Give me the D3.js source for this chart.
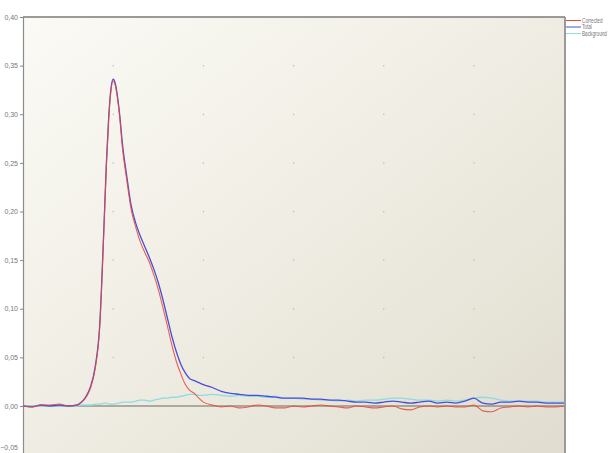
<!DOCTYPE html>
<html><head><meta charset="utf-8">
<script src="https://cdn.jsdelivr.net/npm/d3@7"></script>
<style>body{margin:0;background:#fff}svg{display:block}</style>
</head><body>
<svg id="c" width="611" height="453"></svg>
<script>
const yTicks = [-0.05, 0, 0.05, 0.10, 0.15, 0.20, 0.25, 0.30, 0.35, 0.40];
const xGrid = [0, 10, 20, 30, 40, 50, 60];
const seriesNames = ["Corrected", "Total", "Background"];
const seriesColors = ["#e8473b", "#4a4ed6", "#8edbe0"];

const time = [0,1,2,3,4,5,6,6.5,7,7.5,8,8.5,9,9.25,9.5,9.75,10,10.25,10.5,10.75,11,11.5,12,12.5,13,13.5,14,14.5,15,15.5,16,16.5,17,17.5,18,18.5,19,19.5,20,21,22,23,24,25,26,27,28,29,30,31,32,33,34,35,36,37,38,39,40,41,42,43,44,45,46,47,48,49,50,51,52,53,54,55,56,57,58,59,60];
const total = [0.000,-0.001,0.001,0.000,0.001,0.000,0.001,0.004,0.010,0.020,0.040,0.082,0.19,0.25,0.296,0.326,0.336,0.331,0.317,0.297,0.272,0.237,0.206,0.188,0.175,0.164,0.153,0.141,0.127,0.110,0.091,0.072,0.056,0.043,0.034,0.028,0.026,0.024,0.022,0.019,0.015,0.013,0.012,0.011,0.011,0.010,0.009,0.008,0.008,0.008,0.007,0.007,0.006,0.006,0.005,0.004,0.004,0.003,0.004,0.005,0.004,0.003,0.004,0.005,0.003,0.004,0.003,0.005,0.008,0.003,0.002,0.004,0.004,0.005,0.004,0.004,0.003,0.003,0.003];
const corrected = [0.000,-0.001,0.001,0.001,0.002,0.000,0.001,0.004,0.009,0.019,0.038,0.080,0.188,0.248,0.294,0.324,0.334,0.329,0.315,0.295,0.268,0.233,0.202,0.184,0.169,0.158,0.148,0.135,0.120,0.102,0.083,0.063,0.046,0.033,0.022,0.016,0.013,0.008,0.004,0.001,-0.001,0.000,-0.002,-0.001,0.001,0.000,-0.002,-0.002,0.000,-0.001,0.000,0.001,0.000,-0.001,-0.002,0.000,-0.001,-0.002,-0.001,0.000,-0.003,-0.004,-0.001,0.000,-0.001,0.000,-0.001,-0.001,0.001,-0.005,-0.006,-0.002,-0.001,0.000,-0.001,0.000,-0.001,-0.001,0.000];
const background = [0.000,0.000,0.000,0.000,0.000,0.000,0.000,0.001,0.001,0.001,0.002,0.002,0.003,0.003,0.002,0.002,0.002,0.002,0.003,0.003,0.004,0.004,0.004,0.005,0.006,0.006,0.005,0.006,0.007,0.008,0.008,0.009,0.009,0.010,0.011,0.012,0.012,0.011,0.011,0.012,0.011,0.010,0.011,0.010,0.010,0.009,0.010,0.008,0.008,0.007,0.007,0.006,0.006,0.005,0.006,0.005,0.006,0.006,0.007,0.008,0.008,0.007,0.006,0.006,0.005,0.006,0.005,0.006,0.008,0.009,0.008,0.006,0.005,0.005,0.005,0.005,0.004,0.004,0.004];

const svg = d3.select("#c");
const L = 23, R = 564, T = 17, B = 454.6;
const x = d3.scaleLinear().domain([0, 60]).range([L, R]);
const y = d3.scaleLinear().domain([-0.05, 0.40]).range([B, T]);
const FONT = "Liberation Sans Narrow, Arial Narrow, Liberation Sans, sans-serif";

const defs = svg.append("defs");
const g = defs.append("linearGradient").attr("id","bg").attr("x1","0").attr("y1","0").attr("x2","1").attr("y2","1");
g.append("stop").attr("offset","0").attr("stop-color","#fbfaf5");
g.append("stop").attr("offset","0.5").attr("stop-color","#efede3");
g.append("stop").attr("offset","1").attr("stop-color","#e0dccf");

svg.append("rect").attr("x", L).attr("y", T).attr("width", R - L).attr("height", 453 - T).attr("fill", "url(#bg)");

// grid dots
const dots = [];
xGrid.slice(1, -1).forEach(gx => yTicks.slice(1, -1).forEach(gy => { if (gy !== 0) dots.push([gx, gy]); }));
svg.append("g").selectAll("rect").data(dots).join("rect")
  .attr("x", d => x(d[0]) - 0.5).attr("y", d => y(d[1]) - 0.5)
  .attr("width", 1.2).attr("height", 1.2).attr("fill", "#b8b6ae");

// zero line
svg.append("line").attr("x1", L).attr("x2", R).attr("y1", y(0)).attr("y2", y(0))
  .attr("stroke", "#6d6a5c").attr("stroke-width", 1.2);

// borders
svg.append("line").attr("x1", L).attr("x2", R + 1).attr("y1", T).attr("y2", T).attr("stroke", "#7a7a7a").attr("stroke-width", 1.3);
svg.append("line").attr("x1", R + 1).attr("x2", R + 1).attr("y1", T).attr("y2", 453).attr("stroke", "#9a9a98").attr("stroke-width", 2);

// y axis
const yAxis = d3.axisLeft(y).tickValues(yTicks).tickSize(3).tickFormat(d => d3.format(".2f")(d).replace(".", ",").replace("-", ""));
const ax = svg.append("g").attr("transform", `translate(${L},0)`).call(yAxis);
ax.select(".domain").attr("stroke", "#8c8c8c").attr("stroke-width", 1.2);
ax.selectAll(".tick line").attr("stroke", "#888");
ax.selectAll("text").attr("font-family", FONT).attr("font-size", 7).attr("fill", "#777").attr("dx", 1);
ax.selectAll(".tick").filter(d => d < 0).select("text").attr("dy", "-0.7em");

const line = d3.line().x((d, i) => x(time[i])).y(d => y(d)).curve(d3.curveMonotoneX);
const plot = svg.append("g");
plot.append("path").datum(background).attr("d", line).attr("fill", "none").attr("stroke", seriesColors[2]).attr("stroke-width", 1.3);
plot.append("path").datum(total).attr("d", line).attr("fill", "none").attr("stroke", seriesColors[1]).attr("stroke-width", 1.3);
plot.append("path").datum(corrected).attr("d", line).attr("fill", "none").attr("stroke", seriesColors[0]).attr("stroke-width", 1.1).attr("stroke-opacity", 0.85);

// legend
const lg = svg.append("g");
seriesNames.forEach((n, i) => {
  const ly = 20.5 + i * 6.5;
  lg.append("line").attr("x1", 566).attr("x2", 581).attr("y1", ly).attr("y2", ly).attr("stroke", seriesColors[i]).attr("stroke-width", 1);
  lg.append("text").attr("transform", `translate(582,${ly + 2.2}) scale(0.72,1)`).text(n)
    .attr("font-family", FONT).attr("font-size", 6.5).attr("fill", "#777");
});
</script>
</body></html>
